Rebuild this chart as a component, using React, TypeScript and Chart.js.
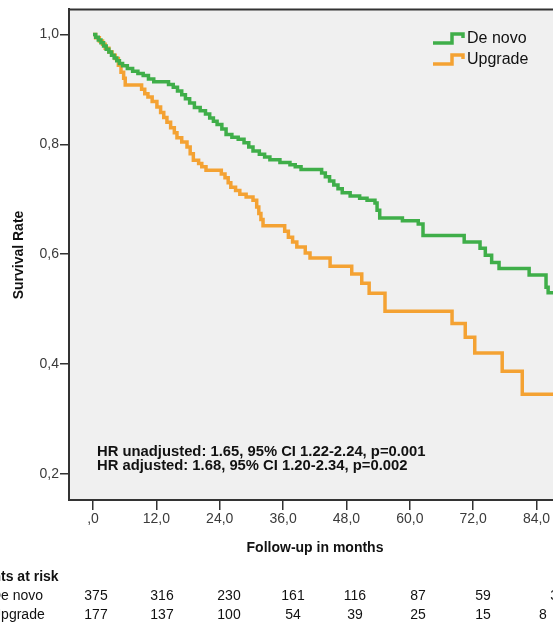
import React, { useEffect, useRef } from 'react';
import { Chart, registerables } from 'chart.js';

Chart.register(...registerables);

const seriesLabels = ['De novo', 'Upgrade'];
const seriesColors = ['#3fae49', '#f4a233'];

const deNovoMonths = [0, 0.5, 1, 1.5, 2, 2.5, 3, 3.5, 4, 4.5, 5, 5.6, 6.5, 7.5, 8.5, 9.5, 10.5, 11.5, 14.3, 15.2, 16, 16.8, 17.5, 18.3, 19.2, 20.3, 21.3, 22.1, 22.8, 23.5, 24.4, 25.2, 26.3, 27.5, 28.6, 29.5, 30.3, 31.5, 32.5, 33.5, 35.4, 37.3, 38.3, 39.4, 43.3, 44, 44.8, 45.6, 46.4, 47.2, 48.7, 50.5, 51.9, 53.4, 53.8, 54.3, 58.6, 61.6, 62.5, 70.3, 73.3, 74.3, 75.5, 76.9, 82.6, 85.8, 86.2, 90];
const deNovoSurvival = [1, 0.995, 0.99, 0.985, 0.979, 0.973, 0.968, 0.962, 0.957, 0.952, 0.947, 0.943, 0.938, 0.933, 0.929, 0.925, 0.919, 0.914, 0.909, 0.904, 0.897, 0.89, 0.883, 0.875, 0.867, 0.861, 0.855, 0.848, 0.842, 0.836, 0.828, 0.818, 0.813, 0.809, 0.803, 0.795, 0.788, 0.782, 0.777, 0.772, 0.767, 0.763, 0.759, 0.754, 0.748, 0.741, 0.733, 0.726, 0.719, 0.712, 0.706, 0.702, 0.698, 0.693, 0.68, 0.666, 0.661, 0.655, 0.634, 0.622, 0.611, 0.598, 0.585, 0.574, 0.562, 0.54, 0.53, 0.53];

const upgradeMonths = [0, 0.5, 1.2, 1.8, 2.3, 3, 3.6, 4.2, 4.8, 5.3, 5.8, 6.1, 9.2, 9.8, 10.4, 11.2, 12.1, 12.8, 13.4, 14, 14.7, 15.4, 15.9, 16.8, 17.8, 18.4, 19, 20, 20.6, 21.4, 24.3, 25, 25.6, 26.1, 27, 27.8, 29, 30.3, 31, 31.4, 31.8, 32.2, 36.3, 37, 37.8, 38.6, 40.2, 41.1, 44.9, 49, 50.9, 52.3, 55.3, 68, 70.5, 72.3, 77.5, 81.3, 90];
const upgradeSurvival = [1, 0.994, 0.988, 0.982, 0.975, 0.968, 0.962, 0.956, 0.944, 0.931, 0.92, 0.908, 0.9, 0.892, 0.886, 0.878, 0.868, 0.858, 0.849, 0.84, 0.83, 0.821, 0.812, 0.804, 0.795, 0.783, 0.771, 0.765, 0.759, 0.753, 0.746, 0.739, 0.73, 0.722, 0.716, 0.709, 0.704, 0.698, 0.686, 0.674, 0.663, 0.652, 0.642, 0.631, 0.622, 0.613, 0.602, 0.593, 0.578, 0.564, 0.547, 0.529, 0.496, 0.474, 0.449, 0.42, 0.387, 0.345, 0.345];

const xTickValues = [0, 12, 24, 36, 48, 60, 72, 84];
const yTickValues = [0.2, 0.4, 0.6, 0.8, 1.0];

const atRiskTitle = 'Patients at risk';
const atRiskDeNovo = [375, 316, 230, 161, 116, 87, 59, 39];
const atRiskUpgrade = [177, 137, 100, 54, 39, 25, 15, 8];
const atRiskColumnX = [96, 162, 229, 293, 355, 418, 483, 558];

const hrLines = [
  'HR unadjusted: 1.65, 95% CI 1.22-2.24, p=0.001',
  'HR adjusted: 1.68, 95% CI 1.20-2.34, p=0.002',
];

const xTitle = 'Follow-up in months';
const yTitle = 'Survival Rate';

const FONT = '"Liberation Sans", Arial, sans-serif';
const AXIS = '#333333';

function fmtComma(v: number): string {
  if (v === 0) return ',0';
  return v.toFixed(1).replace('.', ',');
}

const decorPlugin = {
  id: 'decor',
  beforeDraw(chart: any) {
    const { ctx, chartArea } = chart;
    ctx.save();
    ctx.fillStyle = '#ffffff';
    ctx.fillRect(0, 0, chart.width, chart.height);
    ctx.fillStyle = '#f0f0f0';
    ctx.fillRect(chartArea.left, chartArea.top, chartArea.right - chartArea.left, chartArea.bottom - chartArea.top);
    ctx.restore();
  },
  afterDraw(chart: any) {
    const { ctx, chartArea } = chart;
    ctx.save();
    ctx.strokeStyle = AXIS;
    ctx.lineWidth = 2;
    ctx.beginPath();
    ctx.moveTo(chartArea.left - 1, chartArea.top);
    ctx.lineTo(chartArea.right, chartArea.top);
    ctx.stroke();

    const legendY = [41, 62];
    seriesLabels.forEach((label, i) => {
      const y = legendY[i];
      ctx.strokeStyle = seriesColors[i];
      ctx.lineWidth = 3.5;
      ctx.lineJoin = 'miter';
      ctx.beginPath();
      ctx.moveTo(433, y + 2);
      ctx.lineTo(452, y + 2);
      ctx.lineTo(452, y - 7);
      ctx.lineTo(463, y - 7);
      ctx.lineTo(463, y - 3);
      ctx.stroke();
      ctx.fillStyle = '#111111';
      ctx.font = `16px ${FONT}`;
      ctx.textAlign = 'left';
      ctx.textBaseline = 'middle';
      ctx.fillText(label, 467, y - 2);
    });

    ctx.fillStyle = '#111111';
    ctx.font = `bold 14.8px ${FONT}`;
    ctx.textAlign = 'left';
    ctx.textBaseline = 'middle';
    hrLines.forEach((line, i) => ctx.fillText(line, 97, 452 + i * 14));

    ctx.font = `bold 14px ${FONT}`;
    ctx.textAlign = 'center';
    ctx.fillText(xTitle, 315, 548);
    ctx.save();
    ctx.translate(19, 255);
    ctx.rotate(-Math.PI / 2);
    ctx.fillText(yTitle, 0, 0);
    ctx.restore();

    ctx.textAlign = 'left';
    ctx.font = `bold 14px ${FONT}`;
    ctx.fillText(atRiskTitle, -41, 577);
    ctx.font = `14px ${FONT}`;
    ctx.fillText(seriesLabels[0], -9, 596);
    ctx.fillText(seriesLabels[1], -9, 615);
    ctx.textAlign = 'center';
    atRiskDeNovo.forEach((n, i) => ctx.fillText(String(n), atRiskColumnX[i], 596));
    atRiskUpgrade.forEach((n, i) => ctx.fillText(String(n), atRiskColumnX[i] - (i === 7 ? 15 : 0), 615));
    ctx.restore();
  },
};

export default function App() {
  const canvasRef = useRef<HTMLCanvasElement | null>(null);

  useEffect(() => {
    const canvas = canvasRef.current;
    if (!canvas) return;
    const chart = new Chart(canvas, {
      type: 'line',
      data: {
        datasets: [
          {
            label: seriesLabels[0],
            data: deNovoMonths.map((t, i) => ({ x: t, y: deNovoSurvival[i] })),
            borderColor: seriesColors[0],
            borderWidth: 3.5,
            pointRadius: 0,
            stepped: true,
            fill: false,
          },
          {
            label: seriesLabels[1],
            data: upgradeMonths.map((t, i) => ({ x: t, y: upgradeSurvival[i] })),
            borderColor: seriesColors[1],
            borderWidth: 3.5,
            pointRadius: 0,
            stepped: true,
            fill: false,
          },
        ],
      },
      options: {
        animation: false,
        responsive: false,
        devicePixelRatio: 1,
        layout: { padding: { top: 9, left: 0, right: 0, bottom: 0 } },
        plugins: { legend: { display: false }, tooltip: { enabled: false } },
        scales: {
          x: {
            type: 'linear',
            min: -4.55,
            max: 87.12,
            afterBuildTicks: (s: any) => {
              s.ticks = xTickValues.map((v) => ({ value: v }));
            },
            afterFit: (s: any) => {
              s.height = 122;
            },
            grid: { drawOnChartArea: false, drawTicks: true, tickLength: 10, color: AXIS, lineWidth: 1.5 },
            border: { display: true, color: AXIS, width: 2 },
            ticks: {
              autoSkip: false,
              maxRotation: 0,
              padding: 1,
              color: '#3a3a3a',
              font: { family: FONT, size: 14 },
              callback: (v: any) => fmtComma(Number(v)),
            },
          },
          y: {
            type: 'linear',
            min: 0.1527,
            max: 1.0455,
            afterBuildTicks: (s: any) => {
              s.ticks = yTickValues.map((v) => ({ value: v }));
            },
            afterFit: (s: any) => {
              s.width = 69;
            },
            grid: { drawOnChartArea: false, drawTicks: true, tickLength: 9, color: AXIS, lineWidth: 1.5 },
            border: { display: true, color: AXIS, width: 2 },
            ticks: {
              autoSkip: false,
              padding: 1,
              color: '#3a3a3a',
              font: { family: FONT, size: 14 },
              callback: (v: any) => fmtComma(Number(v)),
            },
          },
        },
      },
      plugins: [decorPlugin],
    } as any);
    return () => chart.destroy();
  }, []);

  return (
    <div style={{ position: 'absolute', left: 0, top: 0, width: 553, height: 622, overflow: 'hidden', background: '#fff' }}>
      <canvas ref={canvasRef} width={553} height={622} style={{ display: 'block' }} />
    </div>
  );
}
